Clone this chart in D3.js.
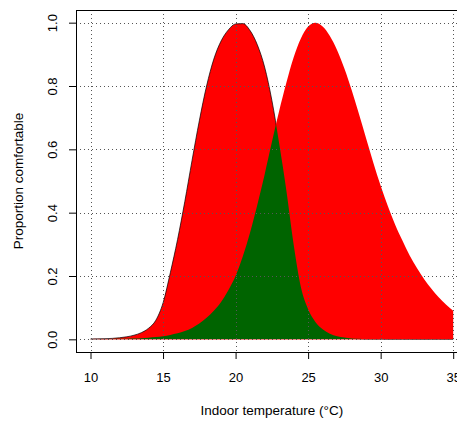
<!DOCTYPE html>
<html>
<head>
<meta charset="utf-8">
<script src="https://cdn.jsdelivr.net/npm/d3@7"></script>
<style>
  html, body { margin: 0; padding: 0; background: #ffffff; }
  svg { display: block; }
  text { font-family: "Liberation Sans", Arial, Helvetica, sans-serif; fill: #000; }
</style>
</head>
<body>
<svg id="chart" width="457" height="421"></svg>
<script>
// Indoor temperature (°C) sample points
const temperature = [
  10, 10.5, 11, 11.5, 12, 12.5, 13, 13.5, 14, 14.5,
  15, 15.5, 16, 16.5, 17, 17.5, 18, 18.5, 19, 19.5,
  20, 20.5, 21, 21.5, 22, 22.5, 23, 23.5, 24, 24.5,
  25, 25.5, 26, 26.5, 27, 27.5, 28, 28.5, 29, 29.5,
  30, 30.5, 31, 31.5, 32, 32.5, 33, 33.5, 34, 34.5, 35
];

// Proportion comfortable, cooler group
const comfortA = [
  0.001, 0.0015, 0.002, 0.003, 0.005, 0.008, 0.013, 0.021, 0.035, 0.060,
  0.115, 0.210, 0.315, 0.435, 0.565, 0.690, 0.800, 0.885, 0.942, 0.977,
  0.996, 0.997, 0.975, 0.930, 0.860, 0.755, 0.620, 0.470, 0.300, 0.165,
  0.095, 0.055, 0.032, 0.018, 0.010, 0.006, 0.003, 0.002, 0.001, 0.001,
  0.0005, 0, 0, 0, 0, 0, 0, 0, 0, 0, 0
];

// Proportion comfortable, warmer group
const comfortB = [
  0.0005, 0.0005, 0.001, 0.001, 0.0015, 0.002, 0.0025, 0.0035, 0.005, 0.007,
  0.010, 0.014, 0.019, 0.026, 0.036, 0.050, 0.068, 0.090, 0.118, 0.155,
  0.200, 0.262, 0.337, 0.425, 0.520, 0.622, 0.720, 0.810, 0.890, 0.950,
  0.988, 1.000, 0.988, 0.958, 0.913, 0.855, 0.787, 0.712, 0.634, 0.557,
  0.485, 0.420, 0.362, 0.312, 0.265, 0.225, 0.190, 0.160, 0.133, 0.110, 0.090
];

const xTicks = [10, 15, 20, 25, 30, 35];
const yTicks = [0, 0.2, 0.4, 0.6, 0.8, 1.0];

const svg = d3.select("#chart");

const plot = { left: 76, top: 10, right: 467.7, bottom: 352 };

const x = d3.scaleLinear().domain([9, 36]).range([plot.left, plot.right]);
const y = d3.scaleLinear().domain([-0.04, 1.04]).range([plot.bottom, plot.top]);

const ptsA = temperature.map((t, i) => [t, comfortA[i]]);
const ptsB = temperature.map((t, i) => [t, comfortB[i]]);

const area = d3.area()
  .x(d => x(d[0]))
  .y0(y(0))
  .y1(d => y(d[1]))
  .curve(d3.curveMonotoneX);

const line = d3.line()
  .x(d => x(d[0]))
  .y(d => y(d[1]))
  .curve(d3.curveMonotoneX);

const defs = svg.append("defs");
defs.append("clipPath").attr("id", "plot-clip")
  .append("rect")
  .attr("x", plot.left).attr("y", plot.top)
  .attr("width", plot.right - plot.left).attr("height", plot.bottom - plot.top);
defs.append("clipPath").attr("id", "warm-clip")
  .append("path").attr("d", area(ptsB));

const g = svg.append("g").attr("clip-path", "url(#plot-clip)");

// cooler group: red fill with a thin dark outline
g.append("path").attr("d", area(ptsA)).attr("fill", "#ff0000");
g.append("path").attr("d", line(ptsA))
  .attr("fill", "none").attr("stroke", "#000").attr("stroke-width", 0.7);

// warmer group: red fill, no outline
g.append("path").attr("d", area(ptsB)).attr("fill", "#ff0000");

// overlap of both groups in dark green
g.append("path").attr("d", area(ptsA))
  .attr("clip-path", "url(#warm-clip)")
  .attr("fill", "#006400");

// dotted grid over the fills
const grid = g.append("g")
  .attr("stroke", "#555")
  .attr("stroke-width", 1)
  .attr("stroke-dasharray", "1,3")
  .attr("fill", "none");
grid.selectAll("line.v").data(xTicks).join("line")
  .attr("class", "v")
  .attr("x1", d => Math.round(x(d)) + 0.5).attr("x2", d => Math.round(x(d)) + 0.5)
  .attr("y1", plot.top).attr("y2", plot.bottom);
grid.selectAll("line.h").data(yTicks).join("line")
  .attr("class", "h")
  .attr("y1", d => Math.round(y(d)) + 0.5).attr("y2", d => Math.round(y(d)) + 0.5)
  .attr("x1", plot.left).attr("x2", plot.right);

// axes
const tickFont = 13;
const titleFont = 13.5;
const xAxis = svg.append("g")
  .attr("transform", `translate(0,${plot.bottom})`)
  .call(d3.axisBottom(x).tickValues(xTicks).tickSize(7).tickPadding(14).tickFormat(d3.format("d")));
xAxis.select(".domain").remove();
xAxis.attr("font-family", null);
xAxis.selectAll("text").attr("font-size", tickFont);

const yAxis = svg.append("g")
  .attr("transform", `translate(${plot.left},0)`)
  .call(d3.axisLeft(y).tickValues(yTicks).tickSize(7).tickFormat(d3.format(".1f")));
yAxis.select(".domain").remove();
yAxis.attr("font-family", null);
yAxis.selectAll("text")
  .attr("x", null).attr("dy", null)
  .attr("text-anchor", "middle")
  .attr("font-size", tickFont)
  .attr("transform", "translate(-19,0) rotate(-90)");

// plot frame
svg.append("rect")
  .attr("x", plot.left + 0.5).attr("y", plot.top + 0.5)
  .attr("width", plot.right - plot.left).attr("height", plot.bottom - plot.top)
  .attr("fill", "none").attr("stroke", "#000").attr("stroke-width", 1);

// axis titles
svg.append("text")
  .attr("x", (plot.left + plot.right) / 2).attr("y", 415)
  .attr("text-anchor", "middle").attr("font-size", titleFont)
  .text("Indoor temperature (°C)");

svg.append("text")
  .attr("transform", `translate(22.5,${(plot.top + plot.bottom) / 2}) rotate(-90)`)
  .attr("text-anchor", "middle").attr("font-size", titleFont)
  .text("Proportion comfortable");
</script>
</body>
</html>
